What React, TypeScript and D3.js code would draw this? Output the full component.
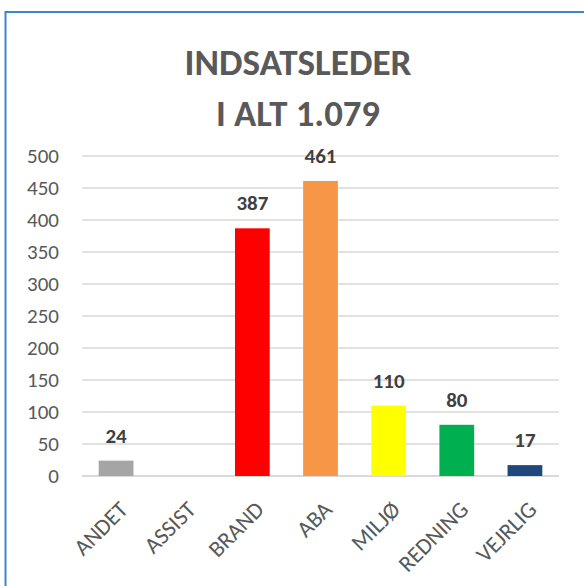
import React from 'react';
import { scaleBand, scaleLinear } from 'd3';

const categories = ['ANDET', 'ASSIST', 'BRAND', 'ABA', 'MILJØ', 'REDNING', 'VEJRLIG'];
const values = [24, 0, 387, 461, 110, 80, 17];
const colors = ['#A5A5A5', '#4472C4', '#FF0000', '#F79646', '#FFFF00', '#00B050', '#1F497D'];
const yTicks = [0, 50, 100, 150, 200, 250, 300, 350, 400, 450, 500];
const titleLines = ['INDSATSLEDER', 'I ALT 1.079'];

const W = 584;
const H = 586;
const font = 'Carlito, Calibri, Lato, sans-serif';

export default function App() {
  const left = 82;
  const right = 559;
  const top = 156;
  const bottom = 476;

  const x = scaleBand().domain(categories).range([left, right]).paddingInner(0.49).paddingOuter(0.245);
  const y = scaleLinear().domain([0, 500]).range([bottom, top]);

  return (
    <div style={{ position: 'absolute', left: 0, top: 0 }}>
      <svg width={W} height={H} style={{ display: 'block', background: '#fff' }}>
        <rect x={5.5} y={12} width={620} height={620} fill="#fff" stroke="#3B86D1" strokeWidth={2} />

        {titleLines.map((t, i) => (
          <text
            key={t}
            x={298}
            y={75 + i * 51}
            textAnchor="middle"
            fontFamily={font}
            fontWeight="bold"
            fontSize={37}
            fill="#595959"
            textLength={i === 0 ? 227 : 164}
            lengthAdjust="spacingAndGlyphs"
          >
            {t}
          </text>
        ))}

        {yTicks.map((t) => (
          <g key={t}>
            <line x1={left} x2={right} y1={y(t)} y2={y(t)} stroke="#D9D9D9" strokeWidth={t === 0 ? 2 : 1.5} />
            <text x={59} y={y(t) + 7} textAnchor="end" fontFamily={font} fontSize={21} fill="#595959">
              {t}
            </text>
          </g>
        ))}

        {categories.map((c, i) => {
          const bx = x(c) as number;
          const cx = bx + x.bandwidth() / 2;
          const v = values[i];
          return (
            <g key={c}>
              {v > 0 && (
                <rect x={bx} y={y(v)} width={x.bandwidth()} height={y(0) - y(v)} fill={colors[i]} />
              )}
              {v > 0 && (
                <text
                  x={cx}
                  y={y(v) - 18}
                  textAnchor="middle"
                  fontFamily={font}
                  fontWeight="bold"
                  fontSize={21}
                  fill="#404040"
                >
                  {v}
                </text>
              )}
              <text
                transform={`translate(${cx + 13},${bottom + 35}) rotate(-45)`}
                textAnchor="end"
                fontFamily={font}
                fontSize={23}
                fill="#595959"
              >
                {c}
              </text>
            </g>
          );
        })}
      </svg>
    </div>
  );
}
